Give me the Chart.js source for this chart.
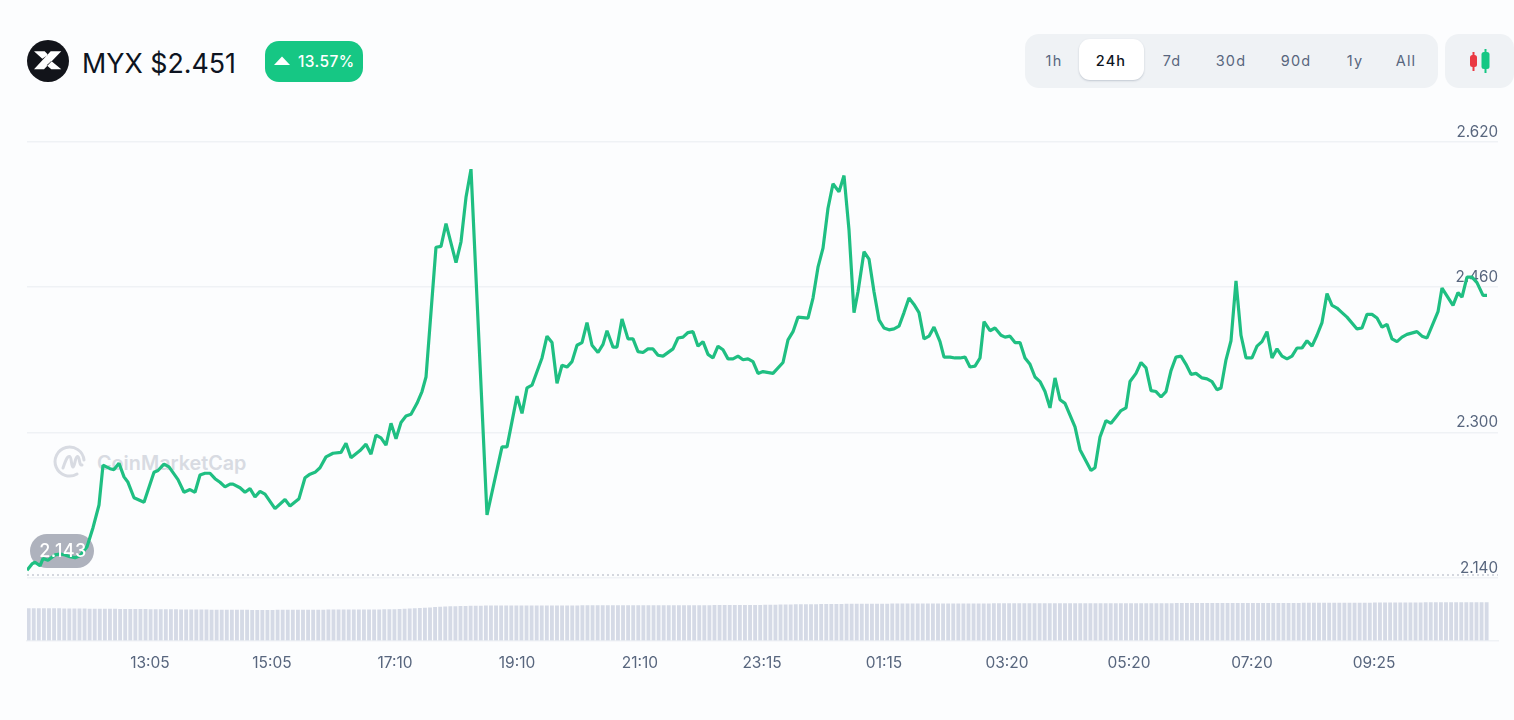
<!DOCTYPE html>
<html>
<head>
<meta charset="utf-8">
<title>MYX price</title>
<script src="https://cdn.jsdelivr.net/npm/chart.js@4"></script>
<style>
  html, body { margin: 0; height: 100%; overflow: hidden; background: #fcfdfe; font-family: Inter, Roboto, sans-serif; }
  #page { position: relative; width: 1514px; height: 720px; overflow: hidden; }
  #page > * { position: absolute; }
  #priceChart { left: 0; top: 0; z-index: 2; }

  .coin { left: 27px; top: 40px; width: 42px; height: 42px; }
  .title { left: 82px; top: 44px; font-size: 26.8px; line-height: 38px; color: #0d1421; white-space: nowrap; }
  .change { left: 265px; top: 41px; width: 98px; height: 41px; border-radius: 14px; background: #16c784; color: #fff; }
  .change svg { position: absolute; left: 8px; top: 15px; }
  .change span { position: absolute; left: 33px; top: 0; font-size: 15.5px; font-weight: 500; line-height: 41px; letter-spacing: 0.4px; }

  .ranges { left: 1025px; top: 34px; width: 413px; height: 54px; border-radius: 14px; background: #eff2f5; }
  .active { left: 1079px; top: 39px; width: 65px; height: 41px; border-radius: 11px; background: #fff; box-shadow: 0 1px 2px rgba(88,102,126,.3); }
  .range { top: 50px; width: 60px; margin-left: -30px; text-align: center; font-size: 14.5px; line-height: 22px; letter-spacing: 1.2px; color: #58667e; }
  .range.on { color: #0d1421; font-weight: 500; }
  .candles { left: 1445px; top: 34px; width: 69px; height: 54px; border-radius: 14px; background: #eff2f5; }

  .watermark { left: 53px; top: 444px; z-index: 1; }
  .watermark-text { left: 97px; top: 448px; z-index: 1; font-size: 19.8px; line-height: 30px; font-weight: 600; color: #d8dbe2; }
  .open-pill { left: 30px; top: 534px; width: 64px; height: 34px; border-radius: 17px; background: #aeb2bd; z-index: 1; }
  .open-text { left: 30px; top: 534px; width: 66px; text-align: center; z-index: 3; font-size: 18px; line-height: 34px; font-weight: 500; letter-spacing: 0.4px; color: #fff; }
</style>
</head>
<body>
<div id="page">
  <svg class="coin" viewBox="0 0 42 42">
    <circle cx="21" cy="21" r="21" fill="#12141a"/>
    <path d="M34.300 11.300H23.700L7 29.300H17zM7 11.300H17.700L21 14.700 15.300 18.700zM34.300 29.300H24.300L19.700 25.300 24.300 21z" fill="#fff"/>
  </svg>
  <div class="title">MYX $2.451</div>
  <div class="change">
    <svg width="18" height="10" viewBox="0 0 18 10"><path d="M9 0.500l8 8.500H1z" fill="#fff"/></svg>
    <span>13.57%</span>
  </div>

  <div class="ranges"></div>
  <div class="active"></div>
  <div class="range" style="left:1054px">1h</div>
  <div class="range on" style="left:1111px">24h</div>
  <div class="range" style="left:1172px">7d</div>
  <div class="range" style="left:1231px">30d</div>
  <div class="range" style="left:1296px">90d</div>
  <div class="range" style="left:1355px">1y</div>
  <div class="range" style="left:1406px">All</div>
  <div class="candles">
    <svg width="69" height="54" viewBox="0 0 69 54">
      <path d="M28.500 18v19" stroke="#ea3943" stroke-width="2"/>
      <rect x="25" y="21" width="7" height="12" rx="2.500" fill="#ea3943"/>
      <path d="M40.500 15v24" stroke="#16c784" stroke-width="2"/>
      <rect x="36.500" y="18" width="8" height="17" rx="2.500" fill="#16c784"/>
    </svg>
  </div>

  <svg class="watermark" width="36" height="36" viewBox="0 0 36 36" fill="none" stroke="#d8dbe2" stroke-width="3" stroke-linecap="round" stroke-linejoin="round">
    <path d="M24 30A14.500 14.500 0 1 1 31 16"/>
    <path d="M10 24C12 18 14 12 16.500 12.500C19 13 18 23 20 23C22 23 22 12 24.500 12.500C27 13 26 22 29 21"/>
  </svg>
  <div class="watermark-text">CoinMarketCap</div>

  <div class="open-pill"></div>
  <canvas id="priceChart" width="1514" height="720"></canvas>
  <div class="open-text">2.143</div>
</div>

<script>
// Minutes since the start of the 24h window, one entry per price below
const minutes = [
  0, 5, 8, 13, 16, 21, 28, 33, 38, 43, 48, 53, 60, 66, 72, 76, 83, 87, 92, 97,
  101, 107, 117, 127, 131, 137, 142, 151, 157, 163, 168, 173, 178, 183, 188, 193, 198, 203, 206, 213,
  218, 223, 228, 233, 238, 248, 258, 263, 272, 278, 283, 288, 293,
  299, 306, 314, 319, 324, 333, 339, 344, 349, 354, 359, 364, 369, 374, 379, 384, 390, 395, 399, 409,
  414, 419, 429, 434, 439, 444, 460, 475, 480, 490, 495, 500, 505, 515, 520, 525, 530, 535, 540, 545,
  550, 555, 560, 565, 571, 576, 580, 586, 590, 595, 601, 606, 611, 616, 621,
  626, 631, 636, 646, 651, 656, 661, 666, 671, 676, 681, 686, 691, 696, 701, 706, 711, 716, 721, 726,
  731, 736, 746, 756, 761, 766, 771, 781, 786, 791, 796, 801, 806, 812, 817, 822, 827, 831, 837, 842,
  847, 852, 857, 862, 867, 872, 877, 882, 887, 892, 897, 902, 907, 913, 917, 923, 928, 933, 938, 943, 948, 953,
  957, 963, 968, 974, 978, 983, 988, 993, 998, 1003, 1008, 1013, 1018, 1023, 1028, 1033, 1038, 1048, 1053, 1064,
  1068, 1073, 1079, 1084, 1089, 1094, 1099, 1103, 1109, 1114, 1119, 1124, 1129, 1134, 1139, 1144, 1149, 1154, 1159, 1164,
  1169, 1175, 1180, 1185, 1190, 1194, 1199, 1204, 1209,
  1214, 1219, 1225, 1230, 1235, 1240, 1245, 1250, 1255, 1260, 1265, 1270, 1275, 1280, 1285, 1290, 1295, 1300, 1305, 1310,
  1315, 1320, 1330, 1335, 1340, 1345, 1350, 1355, 1360, 1365, 1370, 1375, 1380, 1390, 1395, 1400, 1411, 1415, 1426, 1431,
  1435, 1440, 1445, 1450, 1456, 1460
];

const prices = [
  2.148, 2.155, 2.157, 2.153, 2.161, 2.159, 2.165, 2.166, 2.165, 2.163, 2.162, 2.164, 2.174, 2.195, 2.220, 2.264, 2.260, 2.259, 2.266, 2.251,
  2.245, 2.228, 2.223, 2.256, 2.258, 2.265, 2.262, 2.248, 2.234, 2.237, 2.234, 2.253, 2.255, 2.255, 2.249, 2.245, 2.240, 2.243, 2.243, 2.239,
  2.234, 2.238, 2.229, 2.235, 2.232, 2.216, 2.226, 2.219, 2.227, 2.250, 2.254, 2.256, 2.261,
  2.273, 2.277, 2.278, 2.288, 2.272, 2.280, 2.287, 2.276, 2.297, 2.294, 2.286, 2.310, 2.293, 2.311, 2.318, 2.320, 2.332, 2.345, 2.361, 2.504,
  2.505, 2.530, 2.487, 2.510, 2.559, 2.590, 2.209, 2.284, 2.284, 2.340, 2.321, 2.349, 2.352, 2.382, 2.406, 2.399, 2.354, 2.374, 2.372, 2.378,
  2.396, 2.399, 2.421, 2.396, 2.388, 2.397, 2.412, 2.394, 2.394, 2.425, 2.403, 2.403, 2.389, 2.388, 2.392,
  2.392, 2.385, 2.384, 2.392, 2.404, 2.405, 2.410, 2.411, 2.395, 2.400, 2.386, 2.382, 2.395, 2.391, 2.381, 2.381, 2.384, 2.380, 2.381, 2.378,
  2.365, 2.367, 2.365, 2.377, 2.402, 2.411, 2.427, 2.426, 2.448, 2.482, 2.503, 2.547, 2.574, 2.565, 2.583, 2.523, 2.432, 2.455, 2.499, 2.491,
  2.455, 2.424, 2.415, 2.413, 2.414, 2.417, 2.432, 2.448, 2.441, 2.432, 2.403, 2.406, 2.416, 2.400, 2.383, 2.383, 2.382, 2.382, 2.383, 2.372, 2.373, 2.382,
  2.422, 2.412, 2.415, 2.407, 2.405, 2.406, 2.399, 2.399, 2.382, 2.375, 2.361, 2.356, 2.345, 2.327, 2.360, 2.336, 2.332, 2.306, 2.281, 2.258,
  2.261, 2.295, 2.313, 2.310, 2.317, 2.324, 2.327, 2.356, 2.365, 2.377, 2.371, 2.346, 2.345, 2.339, 2.345, 2.368, 2.383, 2.384, 2.375, 2.364,
  2.365, 2.360, 2.359, 2.356, 2.347, 2.349, 2.380, 2.401, 2.467,
  2.407, 2.382, 2.382, 2.395, 2.400, 2.411, 2.382, 2.392, 2.384, 2.381, 2.384, 2.393, 2.393, 2.401, 2.395, 2.407, 2.421, 2.453, 2.440, 2.437,
  2.432, 2.427, 2.414, 2.415, 2.430, 2.430, 2.426, 2.416, 2.419, 2.403, 2.400, 2.405, 2.408, 2.411, 2.406, 2.404, 2.433, 2.459, 2.440, 2.454,
  2.449, 2.471, 2.471, 2.465, 2.451, 2.451
];

// Volume per 5 minute candle, 24 bars a row
const volumes = [
  61.5, 61.5, 61.4, 61.4, 61.3, 61.2, 61.2, 61.0, 61.0, 60.9, 60.8, 60.8, 60.6, 60.5, 60.5, 60.3, 60.2, 60.2, 60.0, 60.0, 59.9, 59.8, 59.8, 59.7,
  59.6, 59.5, 59.4, 59.4, 59.2, 59.2, 59.0, 59.0, 58.9, 58.8, 58.8, 58.7, 58.6, 58.6, 58.5, 58.4, 58.4, 58.4, 58.3, 58.3, 58.2, 58.2, 58.2, 58.2,
  58.2, 58.3, 58.3, 58.3, 58.4, 58.4, 58.5, 58.5, 58.5, 58.6, 58.6, 58.7, 58.7, 58.8, 58.8, 58.8, 58.9, 58.9, 59.0, 59.0, 59.0, 59.1, 59.2, 59.2,
  59.5, 60.0, 60.5, 61.0, 61.5, 62.0, 62.5, 63.0, 63.5, 64.0, 64.5, 65.0, 65.2, 65.5, 65.8, 66.0, 66.2, 66.3, 66.4, 66.4, 66.5, 66.5, 66.5, 66.5,
  66.6, 66.6, 66.6, 66.6, 66.7, 66.7, 66.7, 66.7, 66.8, 66.8, 66.8, 66.8, 66.8, 66.9, 66.9, 66.9, 66.9, 66.9, 67.0, 67.0, 67.0, 67.0, 67.0, 67.0,
  67.0, 67.0, 67.1, 67.1, 67.1, 67.1, 67.1, 67.2, 67.2, 67.2, 67.2, 67.3, 67.3, 67.3, 67.3, 67.4, 67.4, 67.4, 67.5, 67.5, 67.5, 67.6, 67.6, 67.7,
  67.8, 67.9, 68.0, 68.2, 68.3, 68.5, 68.6, 68.8, 68.9, 69.0, 69.1, 69.2, 69.3, 69.4, 69.5, 69.6, 69.7, 69.8, 69.8, 69.9, 70.0, 70.0, 70.1, 70.1,
  70.2, 70.2, 70.3, 70.3, 70.3, 70.4, 70.4, 70.4, 70.4, 70.5, 70.5, 70.5, 70.5, 70.5, 70.5, 70.6, 70.6, 70.6, 70.6, 70.6, 70.6, 70.6, 70.7, 70.7,
  70.7, 70.7, 70.7, 70.7, 70.7, 70.8, 70.8, 70.8, 70.8, 70.8, 70.8, 70.8, 70.8, 70.9, 70.9, 70.9, 70.9, 70.9, 70.9, 70.9, 70.9, 71.0, 71.0, 71.0,
  71.0, 71.0, 71.0, 71.0, 71.1, 71.1, 71.1, 71.1, 71.1, 71.1, 71.2, 71.2, 71.2, 71.2, 71.2, 71.3, 71.3, 71.3, 71.3, 71.3, 71.3, 71.4, 71.4, 71.4,
  71.4, 71.4, 71.5, 71.5, 71.5, 71.5, 71.5, 71.6, 71.6, 71.6, 71.6, 71.7, 71.7, 71.7, 71.8, 71.8, 71.8, 71.9, 71.9, 71.9, 72.0, 72.0, 72.0, 72.1,
  72.1, 72.2, 72.2, 72.3, 72.3, 72.4, 72.4, 72.5, 72.5, 72.6, 72.6, 72.7, 72.7, 72.8, 72.8, 72.8, 72.9, 72.9, 72.9, 73.0, 73.0, 73.0, 73.0, 73.0
];

const openPrice = 2.143;
const priceTicks = [2.14, 2.30, 2.46, 2.62];
const timeTicks = [123, 245, 368, 490, 613, 735, 857, 980, 1102, 1225, 1347];
const timeLabels = ['13:05', '15:05', '17:10', '19:10', '21:10', '23:15', '01:15', '03:20', '05:20', '07:20', '09:25'];

const candleMinutes = 5.08;
const endMinute = 1471;

const ctx = document.getElementById('priceChart').getContext('2d');
new Chart(ctx, {
    data: {
        datasets: [
            {
                type: 'bar',
                yAxisID: 'volume',
                data: volumes.map((v, i) => ({ x: (i + 0.33) * candleMinutes, y: v })),
                backgroundColor: '#d5dae6',
                barThickness: 3.2,
                order: 3
            },
            {
                type: 'line',
                yAxisID: 'y',
                data: [{ x: 0, y: openPrice }, { x: endMinute, y: openPrice }],
                borderColor: '#c6cad3',
                borderWidth: 1.5,
                borderDash: [2, 3],
                pointRadius: 0,
                order: 2
            },
            {
                type: 'line',
                yAxisID: 'y',
                data: minutes.map((m, i) => ({ x: m, y: prices[i] })),
                borderColor: '#1fbf82',
                borderWidth: 3.2,
                borderJoinStyle: 'bevel',
                tension: 0,
                pointRadius: 0,
                order: 1
            }
        ]
    },
    options: {
        responsive: false,
        animation: false,
        layout: { padding: { left: 27, right: 16, top: 120, bottom: 40 } },
        plugins: { legend: { display: false }, tooltip: { enabled: false } },
        scales: {
            x: {
                type: 'linear',
                min: 0,
                max: endMinute,
                offset: false,
                grid: { display: false, offset: false },
                border: { color: '#eff2f5', width: 1.5 },
                afterBuildTicks: scale => { scale.ticks = timeTicks.map(value => ({ value })); },
                afterFit: scale => { scale.height = 39.5; },
                ticks: {
                    autoSkip: false,
                    maxRotation: 0,
                    padding: 6,
                    color: '#58667e',
                    font: { family: 'Inter, Roboto, sans-serif', size: 15.5 },
                    callback: (value, index) => timeLabels[index]
                }
            },
            y: {
                position: 'right',
                min: 2.0707,
                max: 2.6442,
                grid: { color: '#eff2f5', lineWidth: 1.5, drawTicks: false },
                border: { display: false },
                afterBuildTicks: scale => { scale.ticks = priceTicks.map(value => ({ value })); },
                afterFit: scale => { scale.width = 0; },
                ticks: {
                    mirror: true,
                    padding: 0,
                    labelOffset: -9.5,
                    color: '#58667e',
                    font: { family: 'Inter, Roboto, sans-serif', size: 15.2 },
                    callback: value => value.toFixed(3)
                }
            },
            volume: {
                display: false,
                min: 0,
                max: 1000
            }
        }
    }
});
</script>
</body>
</html>
